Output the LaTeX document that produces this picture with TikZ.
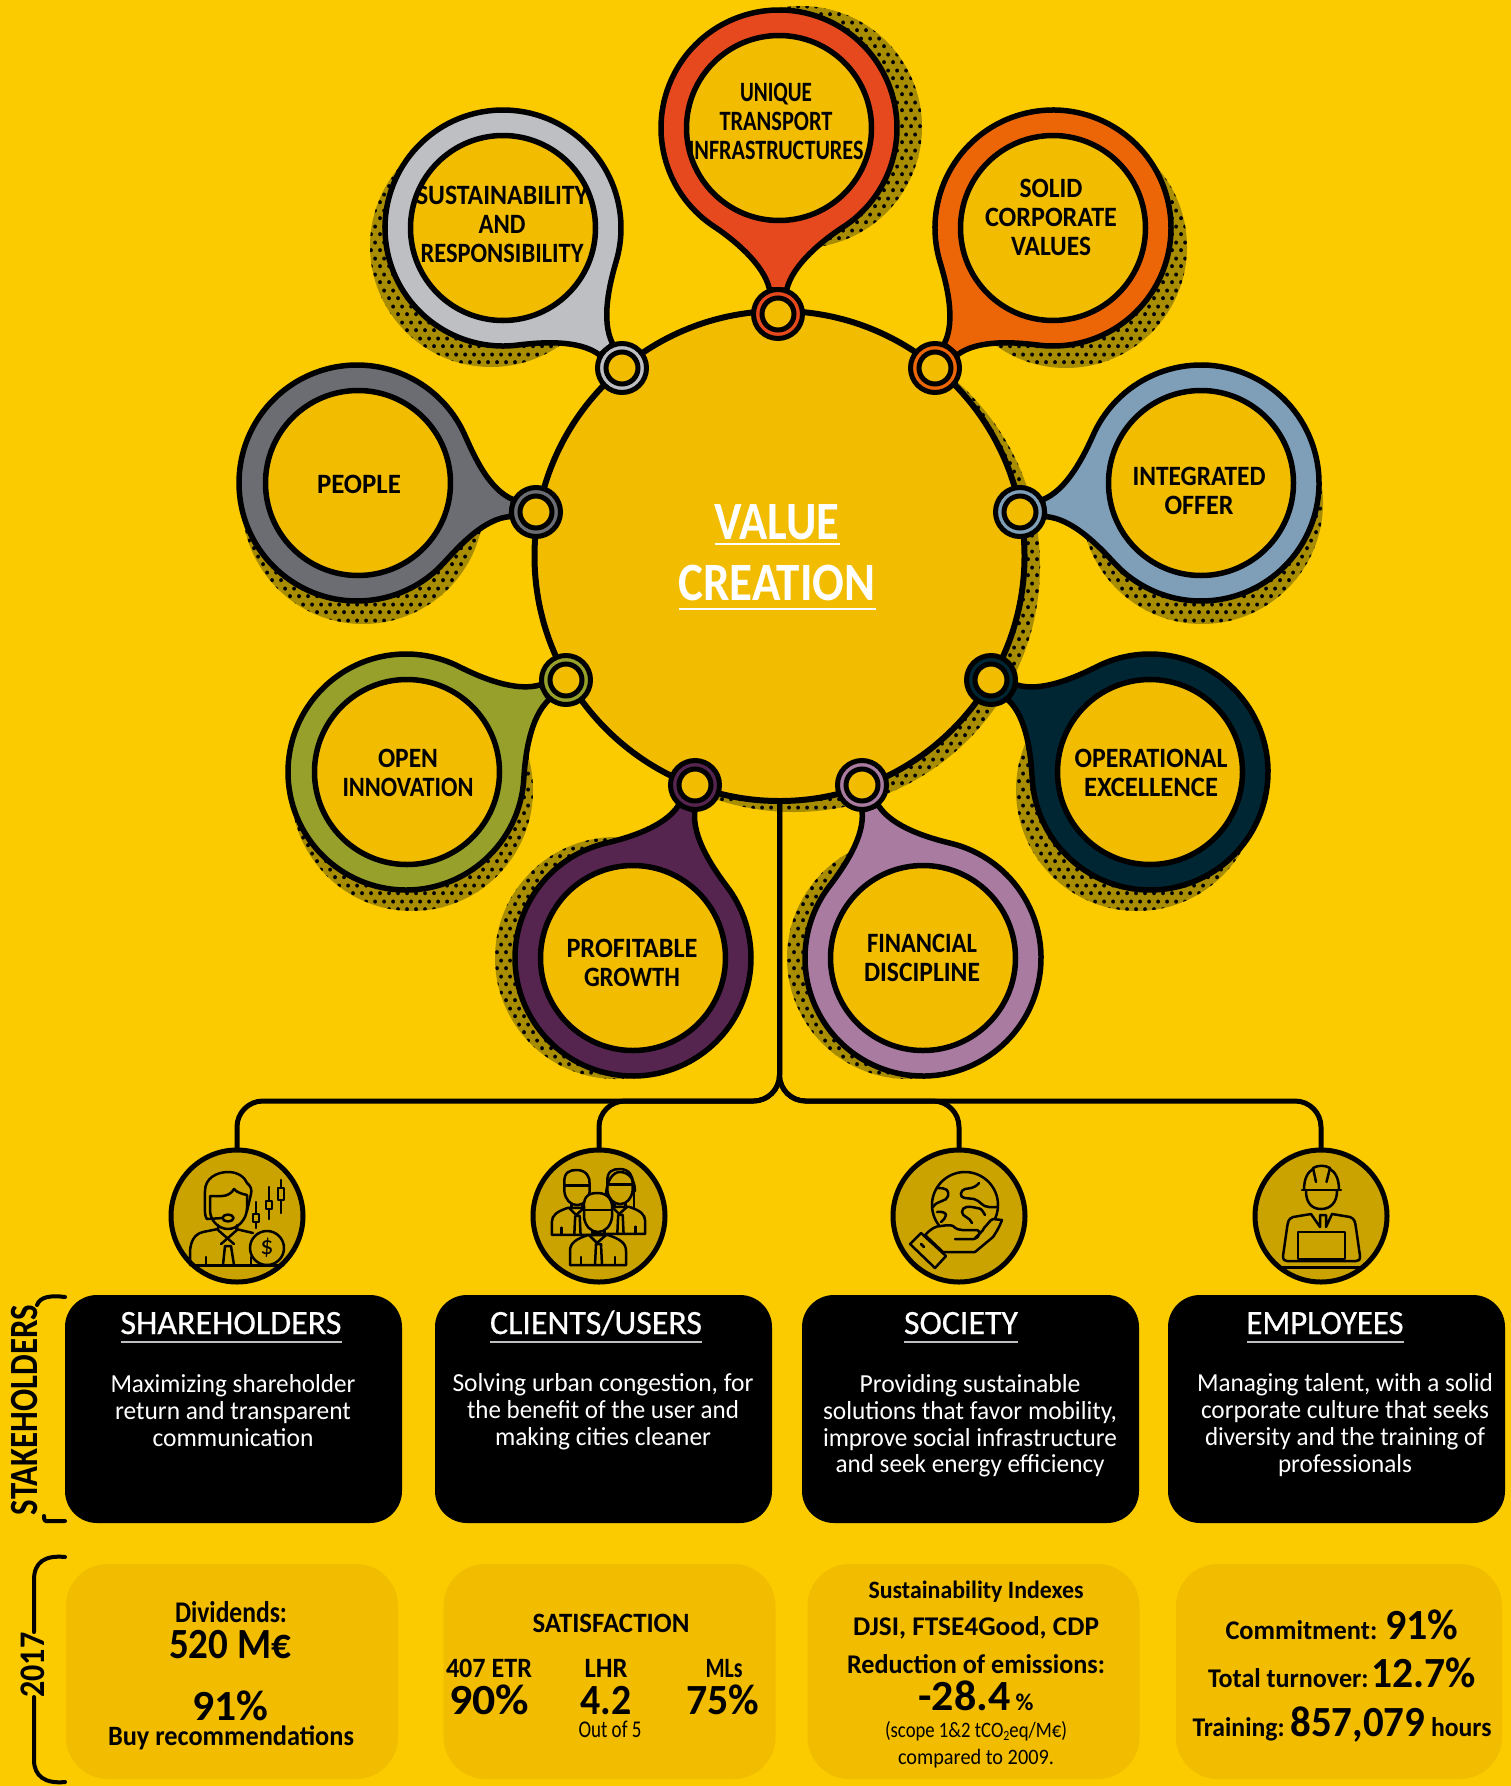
\documentclass[tikz,border=0pt]{standalone}
\usepackage{graphicx}
\usepackage{fontspec}
\usetikzlibrary{patterns}
\setmainfont{Carlito}
\newfontfamily\medf[FakeBold=0.6]{Carlito}
\definecolor{bgy}{HTML}{FBCB00}
\definecolor{inny}{HTML}{F2BC00}
\definecolor{icy}{HTML}{CBA300}
\definecolor{olv}{HTML}{A98D00}
\definecolor{cUni}{HTML}{E6491E}
\definecolor{cSol}{HTML}{EC6608}
\definecolor{cInt}{HTML}{7F9FB8}
\definecolor{cOpe}{HTML}{002633}
\definecolor{cFin}{HTML}{A97BA0}
\definecolor{cPro}{HTML}{55254F}
\definecolor{cInn}{HTML}{96A02A}
\definecolor{cPeo}{HTML}{6B6D72}
\definecolor{cSus}{HTML}{BDBFC2}
\pgfdeclarepatternformonly{halft}{\pgfqpoint{0pt}{0pt}}{\pgfqpoint{9pt}{15.6pt}}{\pgfqpoint{9pt}{15.6pt}}{%
  \pgfpathcircle{\pgfqpoint{2.25pt}{3.9pt}}{2.1pt}%
  \pgfpathcircle{\pgfqpoint{6.75pt}{11.7pt}}{2.1pt}%
  \pgfusepath{fill}}
\newsavebox{\fwbox}
\newcommand{\fw}[2]{\sbox{\fwbox}{#2}\pgfmathsetmacro{\fwr}{#1/\wd\fwbox}\scalebox{\fwr}[1]{#2}}
\newcommand{\fs}[1]{\fontsize{#1}{#1}\selectfont}
\tikzset{
  x=1pt,y=-1pt,
  inkline/.style={line width=5.5pt,draw=black},
  conn/.style={line width=5pt,draw=black,rounded corners=26pt},
  brk/.style={line width=4pt,draw=black,line cap=round},
  iconl/.style={line width=2.5pt,draw=black,line join=round,line cap=round},
  ringin/.style={circle,draw=black,line width=5.5pt,fill=inny,minimum size=185pt,inner sep=0,outer sep=0},
  ringsm/.style={circle,draw=black,line width=5pt,minimum size=49pt,inner sep=0,outer sep=0},
  ringho/.style={circle,draw=black,line width=5pt,fill=inny,minimum size=32pt,inner sep=0,outer sep=0},
  lab/.style={align=center,inner sep=0,outer sep=0,text=black,font=\fontsize{28pt}{29pt}\selectfont\bfseries},
  txt/.style={anchor=base,inner sep=0,outer sep=0,text=black},
  hd/.style={anchor=base,inner sep=0,outer sep=0,text=white,font=\medf\fs{34}},
  dsc/.style={align=center,inner sep=0,outer sep=0,text=white,font=\fontsize{26pt}{26.7pt}\selectfont},
  blk/.style={rectangle,fill=black,rounded corners=32pt,minimum width=337pt,minimum height=228pt,inner sep=0,outer sep=0},
  ylw/.style={rectangle,fill=inny,rounded corners=42pt,minimum width=332pt,minimum height=215pt,inner sep=0,outer sep=0},
  ico/.style={circle,draw=black,line width=5pt,fill=icy,minimum size=132pt,inner sep=0,outer sep=0},
  statb/.style={txt,font=\fs{28}\bfseries},
  statB/.style={txt,font=\fs{43}\bfseries},
  statr/.style={txt,font=\fs{22}},
}
% dotted shadow disc: cx cy r
\newcommand{\shadowc}[3]{%
  \fill[olv] (#1,#2) circle (#3);
  \fill[pattern=halft,pattern color=black] (#1,#2) circle (#3);}
% pin body: cx cy sx sy colour
\newcommand{\pinbody}[5]{%
  \pgfmathsetmacro{\ang}{atan2(-(#4-#2),#3-#1)}
  \pgfmathsetmacro{\dd}{veclen(#3-#1,#4-#2)}
  \begin{scope}[shift={(#1,#2)},rotate=\ang]
    \draw[inkline,fill=#5,line join=round] (33:118) arc[start angle=33,end angle=327,radius=118]
      .. controls (111,-46) and (\dd-50,-14) .. (\dd-24,-8.5) -- (\dd-24,8.5)
      .. controls (\dd-50,14) and (111,46) .. (33:118) -- cycle;
  \end{scope}}
\begin{document}
\begin{tikzpicture}
\useasboundingbox (0,0) rectangle (1511,1786);
\fill[bgy] (0,0) rectangle (1511,1786);
% shadows
\shadowc{801}{127}{121}
\shadowc{491}{246}{121}
\shadowc{1066}{247}{121}
\shadowc{1202}{503}{121}
\shadowc{1137}{790}{121}
\shadowc{908}{958}{121}
\shadowc{616}{958}{121}
\shadowc{412}{790}{121}
\shadowc{363}{503}{121}
\shadowc{794}{566}{246}
% connectors first
\node[ico] (ic1) at (237,1216) {};
\node[ico] (ic2) at (599,1216) {};
\node[ico] (ic3) at (959,1216) {};
\node[ico] (ic4) at (1321,1216) {};
% central disc
\node[circle,draw=black,line width=6pt,fill=inny,minimum size=490pt,inner sep=0,outer sep=0] (vc) at (779.5,556) {};
\coordinate (bus) at (780,1101);
\draw[conn] (vc.south) -- (vc.south |- bus) -- (ic1.north |- bus) -- (ic1.north);
\draw[conn] (vc.south) -- (vc.south |- bus) -- (ic2.north |- bus) -- (ic2.north);
\draw[conn] (vc.south) -- (vc.south |- bus) -- (ic3.north |- bus) -- (ic3.north);
\draw[conn] (vc.south) -- (vc.south |- bus) -- (ic4.north |- bus) -- (ic4.north);
% centre title
\node[txt,text=white,font=\fs{54}\bfseries] (tv) at (777,539) {\fw{125}{VALUE}};
\node[txt,text=white,font=\fs{54}\bfseries] (tc) at (777,600) {\fw{197}{CREATION}};
\draw[white,line width=2pt] ([yshift=-5pt]tv.base west) -- ([yshift=-5pt]tv.base east);
\draw[white,line width=2pt] ([yshift=-9pt]tc.base west) -- ([yshift=-9pt]tc.base east);
% pins
\pinbody{779}{128}{778}{314}{cUni}
\pinbody{503}{228}{622}{368}{cSus}
\pinbody{1053}{228}{935}{368}{cSol}
\pinbody{1201}{483}{1020}{512}{cInt}
\pinbody{1150}{772}{991}{680}{cOpe}
\pinbody{923}{958}{862}{785}{cFin}
\pinbody{633}{958}{695}{785}{cPro}
\pinbody{406}{772}{566}{680}{cInn}
\pinbody{357}{483}{536}{512}{cPeo}
% inner discs
\node[ringin] (pUni) at (779,128) {};
\node[ringin] (pSus) at (503,228) {};
\node[ringin] (pSol) at (1053,228) {};
\node[ringin] (pInt) at (1201,483) {};
\node[ringin] (pOpe) at (1150,772) {};
\node[ringin] (pFin) at (923,958) {};
\node[ringin] (pPro) at (633,958) {};
\node[ringin] (pInn) at (407,772) {};
\node[ringin] (pPeo) at (358,483) {};
% small rings
\node[ringsm,fill=cUni] (sUni) at (778,314) {}; \node[ringho] (hUni) at (778,314) {};
\node[ringsm,fill=cSus] (sSus) at (622,368) {}; \node[ringho] (hSus) at (622,368) {};
\node[ringsm,fill=cSol] (sSol) at (935,368) {}; \node[ringho] (hSol) at (935,368) {};
\node[ringsm,fill=cInt] (sInt) at (1020,512) {}; \node[ringho] (hInt) at (1020,512) {};
\node[ringsm,fill=cOpe] (sOpe) at (991,680) {}; \node[ringho] (hOpe) at (991,680) {};
\node[ringsm,fill=cFin] (sFin) at (862,785) {}; \node[ringho] (hFin) at (862,785) {};
\node[ringsm,fill=cPro] (sPro) at (695,785) {}; \node[ringho] (hPro) at (695,785) {};
\node[ringsm,fill=cInn] (sInn) at (566,680) {}; \node[ringho] (hInn) at (566,680) {};
\node[ringsm,fill=cPeo] (sPeo) at (536,512) {}; \node[ringho] (hPeo) at (536,512) {};
% pin labels
\node[lab] (lUni) at (776,121) {\fw{72}{UNIQUE}\\\fw{113}{TRANSPORT}\\\fw{175}{INFRASTRUCTURES}};
\node[lab] (lSus) at (502,224) {\fw{172}{SUSTAINABILITY}\\\fw{47}{AND}\\\fw{163}{RESPONSIBILITY}};
\node[lab] (lSol) at (1051,217) {\fw{63}{SOLID}\\\fw{132}{CORPORATE}\\\fw{80}{VALUES}};
\node[lab] (lInt) at (1199,491) {\fw{133}{INTEGRATED}\\\fw{69}{OFFER}};
\node[lab] (lOpe) at (1151,773) {\fw{153}{OPERATIONAL}\\\fw{134}{EXCELLENCE}};
\node[lab] (lFin) at (922,958) {\fw{110}{FINANCIAL}\\\fw{116}{DISCIPLINE}};
\node[lab] (lPro) at (632,963) {\fw{131}{PROFITABLE}\\\fw{96}{GROWTH}};
\node[lab] (lInn) at (408,773) {\fw{60}{OPEN}\\\fw{131}{INNOVATION}};
\node[lab] (lPeo) at (359,484) {\fw{84}{PEOPLE}};
% icon 1
\begin{scope}[shift={(ic1.center)}]
  \draw[iconl] (-30,3) .. controls (-33,0) and (-32,-10) .. (-32,-25) .. controls (-32,-38) and (-20,-44) .. (-9,-44) .. controls (2,-44) and (8,-38) .. (10,-33) .. controls (14,-30) and (15,-26) .. (14,-22) -- (10,-5);
  \draw[iconl] (-27,-20) -- (-27,-6) .. controls (-27,5) and (-18,13) .. (-9,13) .. controls (1,13) and (10,3) .. (10,-8) -- (10,-21) .. controls (5,-22) and (-1,-24) .. (-3,-27) .. controls (-5,-23) and (-10,-20) .. (-15,-20) -- cycle;
  \draw[iconl] (-30,3) -- (-14,2);
  \draw[iconl,fill=icy] (-9,2) ellipse (5.5 and 3.5);
  \draw[iconl] (-47,49) -- (-47,35) .. controls (-46,24) and (-42,18) .. (-34,16) -- (-19,13);
  \draw[iconl] (-1,13) -- (16,17);
  \draw[iconl] (-19,9) -- (-19,14) -- (-3,28);
  \draw[iconl] (0,9) -- (0,14) -- (-16,28);
  \draw[iconl] (-14,49) -- (-12,30) -- (-6,30) -- (-3,49);
  \draw[iconl] (-31,41) -- (-31,49);
  \draw[iconl] (14,41) -- (14,49);
  \draw[iconl,line width=3pt] (-44,49.5) -- (46,49.5);
  \draw[iconl,fill=icy] (30,32) circle (17);
  \node[inner sep=0,text=black,font=\fs{26}] (usd) at (30,32) {\$};
  \draw[iconl] (19,-14) -- (19,12); \draw[iconl,fill=icy] (16,-2) rectangle (22,6);
  \draw[iconl] (32,-29) -- (32,3); \draw[iconl,fill=icy] (29,-15) rectangle (35,-7);
  \draw[iconl] (44,-36) -- (44,-3); \draw[iconl,fill=icy] (41,-28) rectangle (47,-16);
\end{scope}
% icon 2
\newcommand{\cperson}[3]{%
  \begin{scope}[shift={(#1,#2)},scale=#3]
    \draw[iconl,fill=icy] (-28,52) -- (-28,38) .. controls (-28,30) and (-22,26) .. (-10,22) -- (10,22) .. controls (22,26) and (28,30) .. (28,38) -- (28,52) -- cycle;
    \draw[iconl] (-9,22) -- (-1,30) -- (8,22);
    \draw[iconl] (-3,52) -- (-2,31) -- (3,31) -- (4,52);
    \draw[iconl] (-17,44) -- (-17,52);
    \draw[iconl] (17,44) -- (17,52);
    \draw[iconl] (-6,14) -- (-6,22);
    \draw[iconl] (6,14) -- (6,22);
    \draw[iconl,fill=icy] (-14,-5) .. controls (-15,-18) and (-8,-20) .. (0,-20) .. controls (10,-20) and (15,-12) .. (14,-4) -- (14,4) .. controls (13,13) and (7,19) .. (0,19) .. controls (-7,19) and (-13,13) .. (-14,4) -- cycle;
    \draw[iconl] (-14,-3) -- (14,-3);
  \end{scope}}
\begin{scope}[shift={(ic2.center)}]
  \draw[iconl] (35,-25) -- (35,-1);
  \cperson{-22}{-28}{0.9}
  \cperson{21}{-29}{0.9}
  \draw[iconl] (7,-22) .. controls (8,-36) and (14,-44) .. (21,-44) .. controls (30,-44) and (36,-36) .. (36,-25);
  \cperson{-1}{-3}{1}
\end{scope}
% icon 3
\begin{scope}[shift={(ic3.center)}]
  \draw[iconl] (6,-11) circle (33);
  \draw[iconl] (20,-33) .. controls (15,-27) and (10,-28) .. (6,-27) .. controls (1,-26) and (0,-18) .. (6,-18) -- (15,-17) .. controls (22,-15) and (23,-9) .. (30,-9) -- (38,-9);
  \draw[iconl] (18,-8) .. controls (10,-10) and (3,-10) .. (3,-4) .. controls (3,1) and (11,1) .. (13,7);
  \draw[iconl] (18,-8) .. controls (23,-8) and (24,-4) .. (26,-1);
  \draw[iconl] (-22,-28) .. controls (-12,-28) and (-10,-26) .. (-11,-20) .. controls (-12,-14) and (-22,-16) .. (-26,-9);
  \draw[iconl] (-22,-4) .. controls (-17,-5) and (-13,-3) .. (-13,-1) .. controls (-13,2) and (-16,4) .. (-18,6);
  \draw[iconl,fill=icy] (-34,19) .. controls (-28,13) and (-24,10) .. (-18,10) .. controls (-12,9) and (-8,9) .. (-6,10) .. controls (-3,13) and (0,14) .. (3,14) -- (18,14) .. controls (22,14) and (21,22) .. (15,23) -- (-4,23) -- (15,23) .. controls (18,20) and (25,14) .. (25,12) .. controls (29,8) and (31,4) .. (34,3) -- (43,4) .. controls (40,12) and (36,18) .. (34,21) -- (16,36) -- (-16,36) -- cycle;
  \draw[iconl,fill=icy] (-49,28) -- (-38,17) -- (-13,40) -- (-24,52) -- cycle;
  \draw[iconl] (-38,28) -- (-35,31);
\end{scope}
% icon 4
\begin{scope}[shift={(ic4.center)}]
  \draw[iconl] (-17,-26) .. controls (-17,-38) and (-13,-44) .. (-8,-47);
  \draw[iconl] (18,-26) .. controls (18,-38) and (14,-44) .. (9,-47);
  \draw[iconl] (-5,-34) -- (-8,-48) .. controls (-3,-51) and (4,-51) .. (9,-48) -- (5.5,-34);
  \draw[iconl] (-19,-26) -- (20,-26);
  \draw[iconl] (-15,-25) .. controls (-15,-13) and (-9,-7) .. (0,-7) .. controls (9,-7) and (16,-13) .. (16,-25);
  \draw[iconl] (-10,-2) -- (-28,1) .. controls (-33,3) and (-33,6) .. (-34,12) -- (-38,40) .. controls (-38,44) and (-36,45) .. (-34,45) -- (35,45) .. controls (38,45) and (39,44) .. (39,40) -- (35,12) .. controls (34,6) and (34,3) .. (29,1) -- (11,-2);
  \draw[iconl] (-10,-2) -- (-1,11) -- (-1,-1) -- (5,-1) -- (5,11) -- (11,-2);
  \draw[iconl,fill=icy] (-23,16) rectangle (24,43);
  \draw[iconl,line width=3pt] (-43,51) -- (43,51);
\end{scope}
% black boxes
\node[blk] (b1) at (233.5,1409) {};
\node[blk] (b2) at (603.5,1409) {};
\node[blk] (b3) at (970.5,1409) {};
\node[blk] (b4) at (1336.5,1409) {};
\node[hd] (h1) at (231,1334) {\fw{221}{SHAREHOLDERS}};
\node[hd] (h2) at (596,1334) {\fw{212}{CLIENTS/USERS}};
\node[hd] (h3) at (961,1334) {\fw{114}{SOCIETY}};
\node[hd] (h4) at (1325,1334) {\fw{157}{EMPLOYEES}};
\draw[cSus,line width=2pt] ([yshift=-8pt]h1.base west) -- ([yshift=-8pt]h1.base east);
\draw[cSus,line width=2pt] ([yshift=-8pt]h2.base west) -- ([yshift=-8pt]h2.base east);
\draw[cSus,line width=2pt] ([yshift=-8pt]h3.base west) -- ([yshift=-8pt]h3.base east);
\draw[cSus,line width=2pt] ([yshift=-8pt]h4.base west) -- ([yshift=-8pt]h4.base east);
\node[dsc] (d1) at (233,1410.5) {\fw{245}{Maximizing shareholder}\\\fw{236}{return and transparent}\\\fw{161}{communication}};
\node[dsc] (d2) at (603,1411.5) {\fw{301}{Solving urban congestion, for}\\\fw{272}{the benefit of the user and}\\\fw{216}{making cities cleaner}};
\node[dsc] (d3) at (970,1426) {\fw{221}{Providing sustainable}\\\fw{294}{solutions that favor mobility,}\\\fw{294}{improve social infrastructure}\\\fw{269}{and seek energy efficiency}};
\node[dsc] (d4) at (1345,1425) {\fw{296}{Managing talent, with a solid}\\\fw{288}{corporate culture that seeks}\\\fw{280}{diversity and the training of}\\\fw{134}{professionals}};
% stat boxes
\node[ylw] (y1) at (232,1671.5) {};
\node[ylw] (y2) at (609.5,1671.5) {};
\node[ylw] (y3) at (973.5,1671.5) {};
\node[ylw,minimum width=326pt] (y4) at (1339,1671.5) {};
\node[statb,font=\fs{30}\bfseries] (s11) at (231,1622) {\fw{112}{Dividends:}};
\node[statB] (s12) at (230,1658) {\fw{122}{520 M€}};
\node[statB] (s13) at (230,1720) {\fw{76}{91\%}};
\node[statb] (s14) at (231,1745) {\fw{246}{Buy recommendations}};
\node[statb] (s21) at (611,1632) {\fw{157}{SATISFACTION}};
\node[statb] (s22) at (489,1677) {\fw{86}{407 ETR}};
\node[statB] (s23) at (489,1714) {\fw{80}{90\%}};
\node[statb] (s24) at (606,1677) {\fw{43}{LHR}};
\node[statB] (s25) at (606,1714) {\fw{51}{4.2}};
\node[statr,font=\fs{24}] (s26) at (610,1737) {\fw{63}{Out of 5}};
\node[statb] (s27) at (724,1677) {\fw{37}{MLs}};
\node[statB] (s28) at (723,1714) {\fw{73}{75\%}};
\node[statb,font=\fs{25}\bfseries] (s31) at (976,1598) {\fw{215}{Sustainability Indexes}};
\node[statb,font=\fs{27}\bfseries] (s32) at (976,1635) {\fw{246}{DJSI, FTSE4Good, CDP}};
\node[statb,font=\fs{27}\bfseries] (s33) at (976,1673) {\fw{258}{Reduction of emissions:}};
\node[statB] (s34) at (976,1710) {\fw{115}{-28.4\hspace{5pt}{\fs{24}\%}}};
\node[statr] (s35) at (976,1737) {\fw{182}{(scope 1\&2 tCO{\raisebox{-3pt}{\fs{14}2}}eq/M€)}};
\node[statr] (s36) at (976,1764) {\fw{156}{compared to 2009.}};
\node[statb,font=\fs{27}\bfseries] (s41) at (1342,1639) {\fw{233}{Commitment: {\fs{43}91\%}}};
\node[statb,font=\fs{27}\bfseries] (s42) at (1342,1687) {\fw{268}{Total turnover:\hspace{3pt}{\fs{43}12.7\%}}};
\node[statb,font=\fs{27}\bfseries] (s43) at (1342,1736) {\fw{299}{Training:\hspace{6pt}{\fs{43}857,079} hours}};
% brackets and side labels
\draw[brk] (65,1297) .. controls (50,1295) and (40,1297) .. (37,1305);
\draw[brk] (65,1521) -- (46,1521) .. controls (45,1521) and (44,1520) .. (44,1516);
\node[txt,rotate=90,font=\fs{40}\bfseries] (sk) at (37,1410) {\fw{210}{STAKEHOLDERS}};
\node[txt,rotate=90,font=\fs{36}\bfseries] (yr) at (44,1665) {\fw{65}{2017}};
\draw[brk] (65,1557) .. controls (45,1555) and (34,1562) .. (34,1580) -- (34,1632);
\draw[brk] (34,1697) -- (34,1760) .. controls (34,1776) and (45,1784) .. (65,1782);
\end{tikzpicture}
\end{document}
